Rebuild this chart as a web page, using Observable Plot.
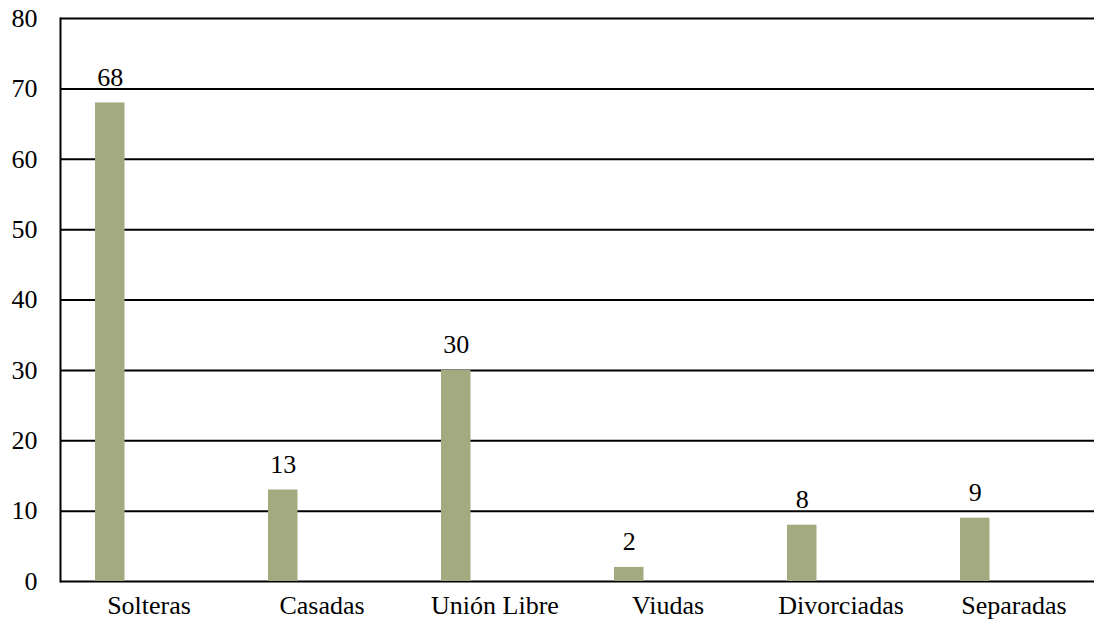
<!DOCTYPE html>
<html>
<head>
<meta charset="utf-8">
<script src="https://cdn.jsdelivr.net/npm/d3@7"></script>
<script src="https://cdn.jsdelivr.net/npm/@observablehq/plot@0.6"></script>
<style>
  body { margin: 0; background: #fff; overflow: hidden; }
  #chart svg { display: block; }
</style>
</head>
<body>
<div id="chart"></div>
<script>
const categories = ["Solteras", "Casadas", "Unión Libre", "Viudas", "Divorciadas", "Separadas"];
const values = [68, 13, 30, 2, 8, 9];
const yTicks = [0, 10, 20, 30, 40, 50, 60, 70, 80];

const data = categories.map((c, i) => ({category: c, value: values[i]}));
const serif = "Times New Roman, Liberation Serif, Tinos, DejaVu Serif, serif";

const chart = Plot.plot({
  width: 1094,
  height: 629,
  marginLeft: 60,
  marginRight: -7,
  marginTop: 18,
  marginBottom: 48,
  style: {fontFamily: serif, fontSize: "26px", color: "#000", background: "#fff", overflow: "hidden"},
  x: {domain: categories, padding: 0, label: null},
  y: {domain: [0, 80], label: null},
  marks: [
    Plot.ruleY(yTicks, {stroke: "#000", strokeWidth: 2}),
    Plot.barY(data, {x: "category", y: "value", fill: "#a4aa80", insetLeft: 33, insetRight: 110.5}),
    Plot.text(data, {x: "category", y: "value", text: d => String(d.value), dx: -38.75, dy: -17, lineAnchor: "bottom", fontSize: 26, fontFamily: serif, fill: "#000"}),
    Plot.frame({anchor: "left", stroke: "#000", strokeWidth: 2}),
    Plot.axisY({ticks: yTicks, tickSize: 0, tickPadding: 23, fontSize: 26, fontFamily: serif, label: null}),
    Plot.axisX({tickSize: 0, tickPadding: 14, fontSize: 26, fontFamily: serif, label: null})
  ]
});
document.getElementById("chart").appendChild(chart);
</script>
</body>
</html>
